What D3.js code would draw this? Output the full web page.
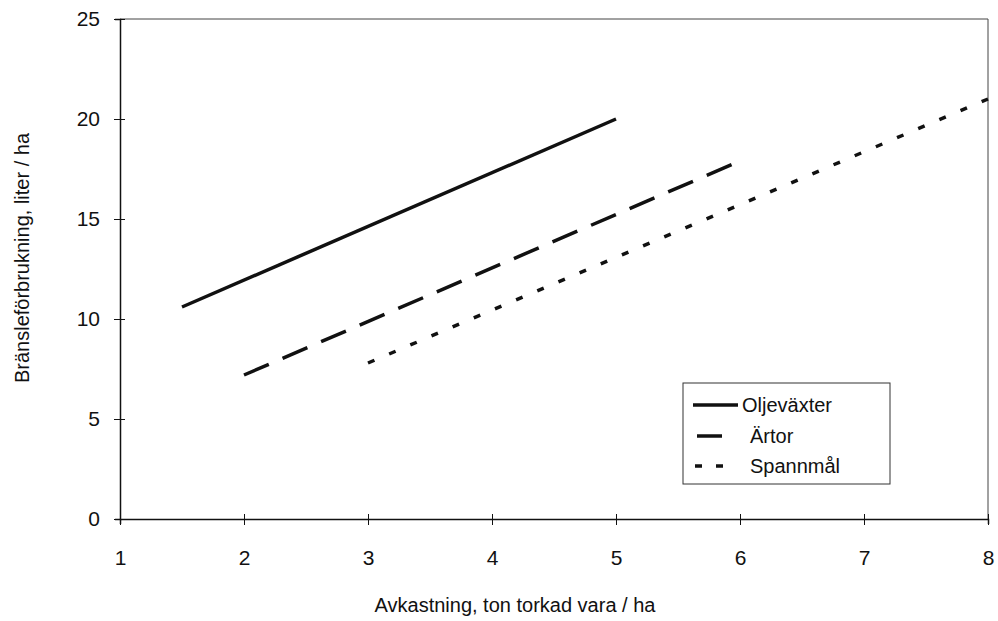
<!DOCTYPE html>
<html>
<head>
<meta charset="utf-8">
<script src="https://cdn.jsdelivr.net/npm/d3@7"></script>
<style>
  body { margin: 0; background: #fff; }
  svg text { font-family: "Liberation Sans", Arial, sans-serif; fill: #111; }
</style>
</head>
<body>
<svg width="998" height="621"></svg>
<script>
// series: [x, y] end points
var oljevaxter = [[1.5, 10.6], [5, 20]];
var artor = [[2, 7.2], [6, 17.9]];
var spannmal = [[3, 7.8], [8, 21]];

var seriesNames = ["Oljeväxter", "Ärtor", "Spannmål"];
var xTicks = [1, 2, 3, 4, 5, 6, 7, 8];
var yTicks = [0, 5, 10, 15, 20, 25];

var svg = d3.select("svg");

var x = d3.scaleLinear().domain([1, 8]).range([120, 988]);
var y = d3.scaleLinear().domain([0, 25]).range([519, 19]);

// frame top + right
svg.append("path")
    .attr("d", "M" + x(1) + "," + y(25) + "H" + x(8) + "V" + y(0))
    .attr("fill", "none")
    .attr("stroke", "#444")
    .attr("stroke-width", 1);

var xAxis = svg.append("g")
    .attr("transform", "translate(0," + y(0) + ")")
    .call(d3.axisBottom(x).tickValues(xTicks).tickFormat(d3.format("d")).tickSize(5).tickPadding(26));
xAxis.selectAll(".tick line").attr("y1", -5).attr("y2", 6);

var yAxis = svg.append("g")
    .attr("transform", "translate(" + x(1) + ",0)")
    .call(d3.axisLeft(y).tickValues(yTicks).tickFormat(d3.format("d")).tickSize(5).tickPadding(15));
yAxis.selectAll(".tick line").attr("x1", -6).attr("x2", 5);

svg.selectAll(".domain").attr("stroke", "#111").attr("stroke-width", 1.5);
svg.selectAll(".tick line").attr("stroke", "#111");
svg.selectAll(".tick text").attr("font-size", 21).attr("fill", "#111");

svg.append("text")
    .attr("x", 515).attr("y", 612)
    .attr("text-anchor", "middle")
    .attr("font-size", 20)
    .text("Avkastning, ton torkad vara / ha");

svg.append("text")
    .attr("transform", "translate(29,258) rotate(-90)")
    .attr("text-anchor", "middle")
    .attr("font-size", 20)
    .text("Bränsleförbrukning, liter / ha");

var line = d3.line().x(function(d) { return x(d[0]); }).y(function(d) { return y(d[1]); });

var styles = [
  { data: oljevaxter, dash: null },
  { data: artor, dash: "27,15" },
  { data: spannmal, dash: "7,16" }
];

styles.forEach(function(s) {
  svg.append("path")
      .datum(s.data)
      .attr("d", line)
      .attr("fill", "none")
      .attr("stroke", "#111")
      .attr("stroke-width", 3.5)
      .attr("stroke-dasharray", s.dash);
});

// legend
var legend = svg.append("g");
legend.append("rect")
    .attr("x", 683).attr("y", 383)
    .attr("width", 207).attr("height", 101)
    .attr("fill", "#fff")
    .attr("stroke", "#333")
    .attr("stroke-width", 1);

var legendRows = [
  { x1: 693, x2: 738, tx: 742, y: 405, dash: null },
  { x1: 697, x2: 722, tx: 750, y: 436, dash: null },
  { x1: 695, x2: 723, tx: 750, y: 466, dash: "7,14" }
];

legendRows.forEach(function(r, i) {
  legend.append("line")
      .attr("x1", r.x1).attr("x2", r.x2)
      .attr("y1", r.y).attr("y2", r.y)
      .attr("stroke", "#111")
      .attr("stroke-width", 3.5)
      .attr("stroke-dasharray", r.dash);
  legend.append("text")
      .attr("x", r.tx).attr("y", r.y)
      .attr("dy", "0.35em")
      .attr("font-size", 20)
      .text(seriesNames[i]);
});
</script>
</body>
</html>
